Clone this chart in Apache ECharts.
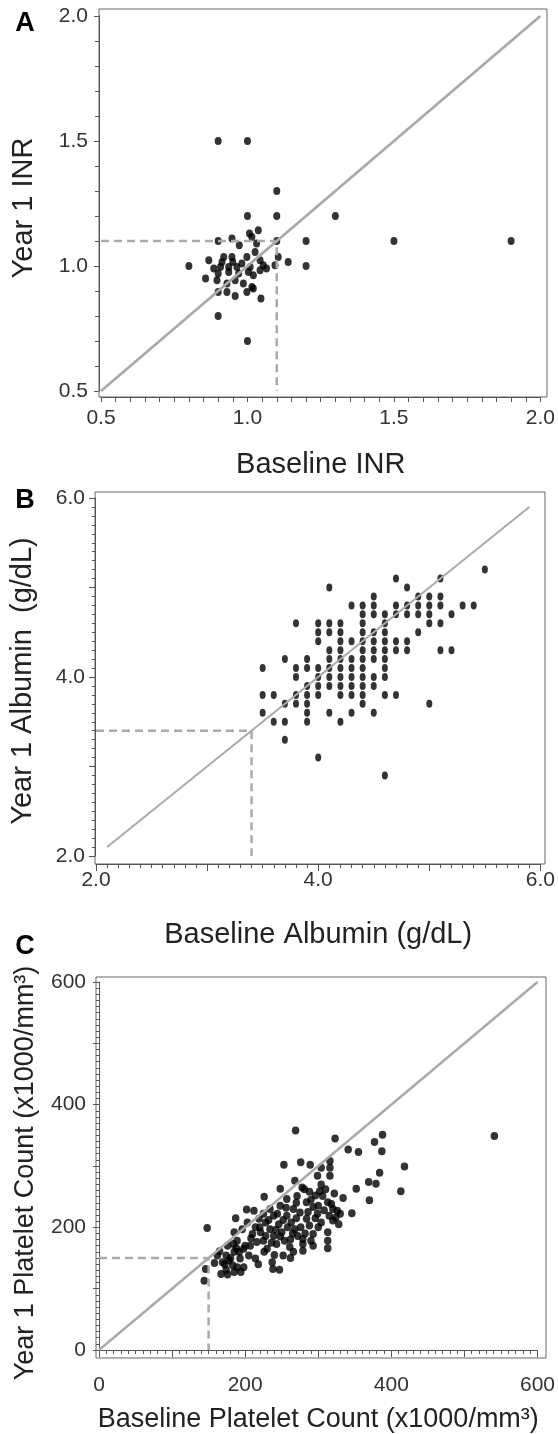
<!DOCTYPE html>
<html>
<head>
<meta charset="utf-8">
<script src="https://cdn.jsdelivr.net/npm/echarts@6/dist/echarts.min.js"></script>
<style>
html,body{margin:0;padding:0;background:#fff;}
#chart{width:558px;height:1434px;}
</style>
</head>
<body>
<div id="chart"></div>
<script>
// ---------- Panel A: INR ----------
const inrPoints = [
  [0.9,1.5],[1.0,1.5],[1.1,1.3],[1.0,1.2],[1.1,1.2],[1.3,1.2],[0.9,1.1],[1.1,1.1],[1.2,1.1],
  [1.5,1.1],[1.9,1.1],[1.2,1.0],[0.8,1.0],[0.9,0.8],[1.0,0.7],
  [0.947,1.11],[1.007,1.13],[1.037,1.143],[1.015,1.116],[0.972,1.083],[1.031,1.09],[1.026,1.056],
  [0.998,1.036],[0.919,1.036],[0.947,1.036],[0.868,1.023],[1.105,1.036],[1.139,1.016],[1.094,1.003],
  [1.054,1.003],[1.065,0.99],[1.043,0.983],[1.009,0.996],[0.981,1.01],[0.964,0.996],[0.936,0.996],
  [0.908,0.996],[0.885,0.99],[0.9,0.97],[0.936,0.976],[0.97,0.97],[1.003,0.976],[1.02,0.963],
  [0.857,0.95],[0.896,0.943],[0.958,0.943],[0.93,0.93],[0.986,0.93],[1.015,0.916],[0.9,0.896],
  [0.93,0.896],[0.998,0.896],[0.958,0.88],[1.02,0.91],[1.046,0.87],[0.913,1.016],[0.95,1.016],[1.043,1.023]
];
const inrIdentity = [[0.5,0.5],[2.0,2.0]];
const inrCutoff = 1.1;
const inrAxisMin = 0.5, inrAxisMax = 2.0;

// ---------- Panel B: Albumin (rows: year-1 value -> baseline values) ----------
const albuminRows = [
  [5.2,[5.5]],
  [5.1,[4.7,5.1]],
  [5.0,[4.1,4.8]],
  [4.9,[4.5,4.9,5.0,5.1]],
  [4.8,[4.3,4.4,4.5,4.7,4.8,4.9,5.0,5.1,5.3,5.4]],
  [4.7,[4.4,4.5,4.6,4.7,4.8,4.9,5.0,5.2]],
  [4.6,[3.8,4.0,4.1,4.2,4.4,4.6,5.0,5.1]],
  [4.5,[4.0,4.1,4.2,4.4,4.5,4.6,4.9]],
  [4.4,[4.0,4.2,4.3,4.4,4.5,4.6,4.7,4.8]],
  [4.3,[4.1,4.2,4.4,4.5,4.6,4.7,4.8,5.1,5.2]],
  [4.2,[3.7,3.9,4.1,4.2,4.3,4.4,4.5,4.6]],
  [4.1,[3.5,3.8,3.9,4.0,4.1,4.2,4.3,4.4,4.6]],
  [4.0,[3.8,4.0,4.1,4.2,4.3,4.4,4.5,4.6]],
  [3.9,[3.9,4.0,4.1,4.2,4.3,4.4,4.5]],
  [3.8,[3.5,3.6,3.8,3.9,4.0,4.2,4.3,4.4,4.6,4.7]],
  [3.7,[3.7,3.8,3.9,4.4,5.0]],
  [3.6,[3.5,3.9,4.1,4.3,4.5]],
  [3.5,[3.6,3.7,3.9,4.2]],
  [3.3,[3.7]],
  [3.1,[4.0]],
  [2.9,[4.6]]
];
const albuminIdentity = [[2.1,2.1],[5.9,5.9]];
const albuminCutoff = 3.4;
const albuminAxisMin = 2.0, albuminAxisMax = 6.0;

// ---------- Panel C: Platelets ----------
const plateletPoints = [
  [269,358],[323,345],[388,351],[377,339],[341,327],[355,323],[387,324],[418,299],[384,289],[369,274],
  [379,271],[352,263],[413,259],[370,244],[346,223],[541,349],[253,302],[276,306],[289,302],[304,297],
  [316,308],[316,297],[316,284],[299,284],[226,250],[202,229],[187,215],[148,199],[248,263],[268,276],[278,265],
  [144,113],[146,132],[158,142],[167,124],[176,123],[165,161],[174,154],[178,146],[183,138],[194,127],
  [193,149],[185,160],[198,165],[205,154],[214,149],[207,170],[216,176],[185,192],[189,178],[210,189],
  [214,200],[221,192],[225,178],[230,165],[228,208],[234,197],[239,186],[243,173],[239,219],[246,205],
  [250,192],[254,178],[261,168],[257,219],[263,208],[268,197],[272,186],[279,173],[266,230],[275,224],
  [284,214],[288,203],[293,189],[284,241],[293,233],[299,222],[304,208],[306,251],[313,241],[320,230],
  [326,227],[315,219],[320,211],[328,205],[313,192],[313,178],[313,166],[302,259],[304,270],[281,262],
  [271,251],[257,246],[248,235],[234,230],[225,222],[212,227],[219,214],[203,208],[196,197],[184,173],
  [176,170],[162,154],[169,143],[189,135],[198,135],[237,143],[238,132],[247,131],[185,127],[174,131],
  [252,154],[266,160],[279,181],[290,178],[293,170],[279,162],
  [220,200],[232,212],[244,222],[252,212],[258,200],[265,190],[270,215],[276,200],[282,190],[286,225],
  [296,215],[300,200],[262,180],[248,185],[236,175],[228,186],[242,196],[256,232],[270,240],[290,245],
  [300,235],[308,228],[318,238],[324,216],[330,222],[296,252],[288,258],[310,262],[322,255],[334,248],
  [208,182],[200,170],[192,160],[180,150],[172,140],[188,166],[226,160],[240,155],[218,140],[262,150]
];
const plateletIdentity = [[0,0],[600,600]];
const plateletCutoff = 150;
const plateletAxisMin = 0, plateletAxisMax = 600;

// ---------- Text ----------
const panelLetters = ['A','B','C'];
const xTitles = ['Baseline INR','Baseline Albumin (g/dL)','Baseline Platelet Count (x1000/mm\u00B3)'];
const yTitles = ['Year 1 INR','Year 1 Albumin  (g/dL)','Year 1 Platelet Count (x1000/mm\u00B3)'];

// ---------- build ----------
const albuminPoints = [];
albuminRows.forEach(r => r[1].forEach(x => albuminPoints.push([x, r[0]])));

const FONT = '"Liberation Sans", Arial, Helvetica, sans-serif';
const AX = '#555';
const GRAY = '#aaaaaa';

function dataAxis(opts) {
  return Object.assign({
    type: 'value',
    axisLine: {show: true, lineStyle: {color: AX, width: 1}},
    axisTick: {show: true, length: 5, lineStyle: {color: AX, width: 1}},
    minorTick: {show: true, length: 4, lineStyle: {color: AX, width: 1}},
    splitLine: {show: false},
    minorSplitLine: {show: false},
    nameLocation: 'middle',
    silent: true
  }, opts);
}
function frameAxis(i) { return {type: 'value', gridIndex: i, show: false, min: 0, max: 1}; }
function titleStyle(size, pad) { return {fontSize: size, color: '#222', fontFamily: FONT, padding: pad || 0}; }
function labelStyle(margin, fmt) { return {fontSize: 21, color: '#333', fontFamily: FONT, margin: margin, formatter: fmt}; }

const fmt1 = v => v.toFixed(1);
const fmtEvery2 = v => (Math.round(v) % 2 === 0 ? v.toFixed(1) : '');
const fmtEvery200 = v => (Math.round(v) % 200 === 0 ? String(Math.round(v)) : '');

const option = {
  animation: false,
  backgroundColor: '#fff',
  textStyle: {fontFamily: FONT},
  grid: [
    {left: 101, top: 16, width: 444, height: 375},
    {left: 96, top: 498, width: 445, height: 358},
    {left: 99, top: 982, width: 446, height: 370},
    {left: 99, top: 9, width: 448, height: 388, show: true, borderColor: '#666', borderWidth: 1, backgroundColor: 'transparent'},
    {left: 95, top: 492, width: 450, height: 372, show: true, borderColor: '#666', borderWidth: 1, backgroundColor: 'transparent'},
    {left: 96, top: 977, width: 450, height: 381, show: true, borderColor: '#666', borderWidth: 1, backgroundColor: 'transparent'}
  ],
  xAxis: [
    dataAxis({gridIndex: 0, min: inrAxisMin, max: inrAxisMax, interval: 0.5, offset: 6,
      minorTick: {show: true, splitNumber: 10, length: 5, lineStyle: {color: AX}},
      axisLabel: labelStyle(11, fmt1),
      name: xTitles[0], nameGap: 53, nameTextStyle: titleStyle(29)}),
    dataAxis({gridIndex: 1, min: albuminAxisMin, max: albuminAxisMax, interval: 1, offset: 8,
      axisTick: {show: true, length: 7, lineStyle: {color: AX}},
      minorTick: {show: true, splitNumber: 10, length: 4, lineStyle: {color: AX}},
      axisLabel: labelStyle(6, fmtEvery2),
      name: xTitles[1], nameGap: 56, nameTextStyle: titleStyle(29)}),
    dataAxis({gridIndex: 2, min: plateletAxisMin, max: plateletAxisMax, interval: 100, offset: 6,
      axisTick: {show: true, length: 7, lineStyle: {color: AX}},
      minorTick: {show: true, splitNumber: 10, length: 4, lineStyle: {color: AX}},
      axisLabel: labelStyle(19, fmtEvery200),
      name: xTitles[2], nameGap: 50, nameTextStyle: titleStyle(27)}),
    frameAxis(3), frameAxis(4), frameAxis(5)
  ],
  yAxis: [
    dataAxis({gridIndex: 0, min: inrAxisMin, max: inrAxisMax, interval: 0.5, offset: 2,
      minorTick: {show: true, splitNumber: 5, length: 4, lineStyle: {color: AX}},
      axisLabel: labelStyle(11, fmt1),
      name: yTitles[0], nameGap: 61, nameTextStyle: titleStyle(29, [0, 9, 0, 0])}),
    dataAxis({gridIndex: 1, min: albuminAxisMin, max: albuminAxisMax, interval: 1, offset: 1,
      axisTick: {show: true, length: 6, lineStyle: {color: AX}},
      minorTick: {show: true, splitNumber: 10, length: 3, lineStyle: {color: AX}},
      axisLabel: labelStyle(10, fmtEvery2),
      name: yTitles[1], nameGap: 58, nameTextStyle: titleStyle(29, [0, 8, 0, 0])}),
    dataAxis({gridIndex: 2, min: plateletAxisMin, max: plateletAxisMax, interval: 100, offset: 3,
      axisTick: {show: true, length: 6, lineStyle: {color: AX}},
      minorTick: {show: true, splitNumber: 10, length: 3, lineStyle: {color: AX}},
      axisLabel: labelStyle(10, fmtEvery200),
      name: yTitles[2], nameGap: 57, nameTextStyle: titleStyle(27, [0, 14, 0, 0])}),
    frameAxis(3), frameAxis(4), frameAxis(5)
  ],
  graphic: panelLetters.map((t, i) => ({
    type: 'text', x: 25, y: [24, 501, 947][i], silent: true,
    style: {text: t, font: 'bold 27px ' + FONT, fill: '#000', textAlign: 'center', textVerticalAlign: 'middle'}
  })),
  series: []
};

function addPanel(i, pts, identity, cut, axMin, size, lineW) {
  option.series.push({
    type: 'scatter', xAxisIndex: i, yAxisIndex: i, data: pts,
    symbol: 'circle', symbolSize: size, itemStyle: {color: '#000'}, silent: true, z: 2
  });
  option.series.push({
    type: 'line', xAxisIndex: i, yAxisIndex: i, data: [[axMin, cut], [cut, cut], [cut, axMin]],
    symbol: 'none', lineStyle: {color: GRAY, width: 2.5, type: [8, 5]}, silent: true, z: 3
  });
  option.series.push({
    type: 'line', xAxisIndex: i, yAxisIndex: i, data: identity,
    symbol: 'none', lineStyle: {color: GRAY, width: lineW}, silent: true, z: 4
  });
}
addPanel(0, inrPoints, inrIdentity, inrCutoff, inrAxisMin, [7, 8], 2.8);
addPanel(1, albuminPoints, albuminIdentity, albuminCutoff, albuminAxisMin, [6, 8], 2);
addPanel(2, plateletPoints, plateletIdentity, plateletCutoff, plateletAxisMin, [7.5, 8], 2.5);

const chart = echarts.init(document.getElementById('chart'), null, {renderer: 'canvas'});
chart.setOption(option);
</script>
</body>
</html>
